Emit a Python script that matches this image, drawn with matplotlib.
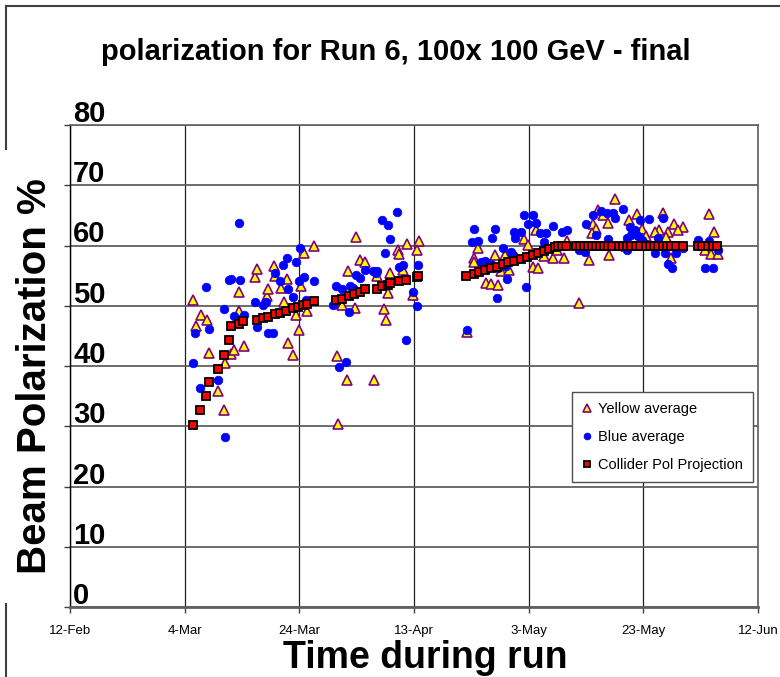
import matplotlib
matplotlib.use("Agg")
import matplotlib.pyplot as plt
import matplotlib.dates as mdates
import matplotlib.transforms as mtransforms
from matplotlib.lines import Line2D
from datetime import datetime

plt.rcParams['font.family'] = ['Liberation Sans', 'DejaVu Sans']

# ---- data: days counted from 4-Mar-2006, polarization in % ----
base_date = "2006-03-04"

yellow_days = [1.5, 2.8, 3.9, 2.0, 4.3, 5.8, 6.9, 7.1, 8.0, 8.6, 10.4, 9.5, 9.5, 12.3, 12.7,
               14.3, 14.6, 15.5, 15.8, 16.8, 17.3, 17.9, 19.4, 20.0, 18.1, 18.9, 20.3, 20.8,
               21.3, 22.6,
               29.8, 30.6, 31.4, 28.5, 38.7, 37.2, 37.4, 40.8, 40.6, 35.8, 38.0, 33.5, 35.5,
               39.9, 29.7, 27.4, 34.7, 35.1, 26.5, 28.3, 33.0, 26.7,
               51.2, 50.4, 50.4, 54.2, 55.8, 55.2, 56.5, 52.6, 53.5, 54.7, 59.2, 59.8, 61.3,
               60.7, 61.7, 62.7, 64.3, 65.0, 49.2,
               75.1, 72.1, 72.9, 73.9, 71.3, 71.7, 71.0, 78.9, 77.5, 79.7, 83.4, 85.4, 86.9,
               86.0, 84.3, 82.8, 82.0, 80.4, 84.0, 91.5, 92.3, 76.9, 74.0, 70.5, 66.2, 66.6,
               84.8, 90.8, 91.8, 93.0, 68.7]
yellow_pol = [50.9, 48.5, 47.6, 46.6, 42.2, 35.8, 32.7, 40.5, 42.0, 42.6, 43.3, 49.1, 52.3, 54.8, 56.1,
              51.7, 52.8, 56.6, 55.0, 52.9, 50.7, 54.4, 48.4, 46.0, 43.8, 41.8, 53.2, 58.7,
              49.1, 59.9,
              61.4, 57.6, 57.3, 55.7, 60.3, 59.3, 58.6, 60.7, 59.3, 55.4, 55.9, 55.0, 52.1,
              51.8, 49.6, 50.1, 49.4, 47.7, 41.7, 37.7, 37.7, 30.3,
              59.6, 57.9, 57.3, 58.4, 58.4, 55.8, 55.9, 53.8, 53.6, 53.4, 61.1, 60.1, 62.5,
              56.5, 56.3, 58.2, 57.9, 59.3, 45.6,
              67.7, 65.9, 65.1, 63.7, 63.6, 62.7, 62.0, 65.3, 64.3, 62.7, 65.4, 63.6, 63.1,
              62.5, 62.3, 62.6, 62.2, 61.5, 61.4, 65.3, 62.3, 59.9, 58.4, 57.6, 58.0, 60.8,
              58.0, 59.2, 58.6, 58.6, 50.5]

blue_days = [9.4, 1.4, 1.8, 2.7, 3.8, 4.2, 5.8, 6.8, 7.0, 7.7, 8.1, 8.6, 9.6, 10.3, 12.2, 12.6,
             13.7, 14.1, 14.6, 15.4, 15.8, 16.7, 17.1, 17.8, 18.1, 18.9, 19.4, 20.1, 19.9, 20.8,
             21.2, 22.5,
             37.1, 34.5, 35.4, 35.8, 35.0, 38.0, 37.4, 40.7, 31.4, 32.8, 33.6, 33.4, 29.8, 30.5,
             26.4, 27.5, 28.8, 29.3, 25.8, 28.6, 39.9, 40.5, 38.6, 26.9, 28.2,
             59.2, 60.7, 59.8, 61.3, 50.5, 54.1, 57.5, 58.7, 64.2, 61.9, 63.0, 53.6, 57.7, 50.1,
             51.2, 62.7, 55.5, 57.0, 57.2, 51.6, 52.4, 53.5, 56.1, 54.6, 56.3, 59.5, 54.5, 49.2,
             65.8, 66.6, 68.7, 69.9, 70.0, 71.3, 72.7, 73.6, 74.7, 75.0, 76.4, 71.8, 73.8, 77.1,
             77.6, 78.5, 77.9, 79.4, 81.0, 79.1, 79.8, 80.2, 83.4, 82.5, 82.0, 83.7, 77.1, 84.3,
             85.0, 85.7, 86.9, 89.5, 91.5, 90.8, 92.2, 93.0]
blue_pol = [63.7, 40.5, 45.5, 36.4, 53.1, 46.2, 37.7, 49.5, 28.2, 54.3, 54.5, 48.3, 54.3, 48.4, 50.6, 46.5,
            50.1, 50.6, 45.5, 45.5, 55.4, 54.1, 56.7, 57.9, 52.8, 51.4, 57.2, 59.6, 54.1, 54.8,
            50.9, 54.1,
            65.6, 64.2, 63.4, 61.1, 58.7, 56.8, 56.4, 56.8, 55.9, 55.8, 55.8, 55.4, 55.1, 54.6,
            53.2, 52.7, 53.3, 52.9, 50.1, 49.0, 52.2, 49.9, 44.3, 39.9, 40.6,
            65.0, 65.0, 63.6, 63.7, 62.7, 62.7, 62.3, 62.3, 63.2, 62.1, 62.1, 61.2, 61.2, 60.6,
            60.8, 60.6, 59.6, 59.0, 58.4, 57.3, 57.5, 57.0, 56.6, 56.2, 54.5, 53.1, 51.3, 45.9,
            62.3, 62.5, 59.3, 59.0, 63.6, 65.0, 65.7, 65.4, 65.4, 64.6, 66.1, 61.8, 61.1, 61.2,
            63.0, 62.6, 61.8, 64.2, 64.4, 61.5, 60.9, 60.4, 64.6, 61.2, 58.8, 58.8, 59.3, 57.0,
            56.2, 58.8, 59.6, 60.9, 60.7, 56.2, 56.2, 59.3]

proj_days = [1.4, 2.7, 3.8, 4.3, 5.8, 6.8, 7.7, 8.1, 9.5, 10.2, 12.6, 13.6, 14.6, 15.7, 16.7,
             17.7, 18.9, 19.8, 20.6, 21.3, 22.5,
             26.4, 27.5, 28.6, 29.5, 30.5, 31.4, 33.6, 34.5, 35.4, 35.8, 37.3, 38.6, 40.5, 40.7,
             49.1, 50.4, 51.4, 52.4, 53.5, 54.5, 55.5, 56.4, 57.5, 58.6, 59.7, 60.7, 61.7, 62.7,
             63.6, 64.6, 65.2, 65.9, 66.5, 68.3, 69.0, 69.7, 70.4, 71.0, 71.7, 72.5, 73.2, 73.9,
             74.6, 75.8, 76.5, 77.2, 77.9, 78.7, 79.4, 80.5, 81.2, 81.9, 82.6, 83.4, 84.1, 84.8,
             85.7, 86.9, 89.5, 90.3, 91.2, 92.1, 92.9]
proj_pol = [30.2, 32.7, 35.0, 37.3, 39.5, 41.9, 44.3, 46.7, 47.0, 47.5, 47.7, 48.0, 48.2, 48.6, 48.8,
            49.1, 49.6, 49.8, 50.1, 50.3, 50.8,
            50.9, 51.2, 51.7, 51.9, 52.2, 52.7, 52.8, 53.2, 53.4, 53.8, 54.1, 54.3, 54.8, 55.0,
            55.0, 55.3, 55.6, 56.0, 56.3, 56.5, 56.9, 57.3, 57.5, 57.8, 58.1, 58.4, 58.7, 59.1,
            59.4, 59.7, 60.0, 60.0, 60.0, 60.0, 60.0, 60.0, 60.0, 60.0, 60.0, 60.0, 60.0, 60.0,
            60.0, 60.0, 60.0, 60.0, 60.0, 60.0, 60.0, 60.0, 60.0, 60.0, 60.0, 60.0, 60.0, 60.0,
            60.0, 60.0, 60.0, 60.0, 60.0, 60.0, 60.0]

x_tick_dates = ["2006-02-12", "2006-03-04", "2006-03-24", "2006-04-13",
                "2006-05-03", "2006-05-23", "2006-06-12"]
x_tick_labels = ["12-Feb", "4-Mar", "24-Mar", "13-Apr", "3-May", "23-May", "12-Jun"]
y_ticks = [0, 10, 20, 30, 40, 50, 60, 70, 80]

title = "polarization for Run 6, 100x 100 GeV - final"
xlabel = "Time during run"
ylabel = "Beam Polarization %"
labels = ["Yellow average", "Blue average", "Collider Pol Projection"]

# ---- figure ----
W, H = 780, 677
fig = plt.figure(figsize=(W / 100, H / 100), dpi=100)
ax = fig.add_axes([70 / W, 1 - 607 / H, 688 / W, 482 / H])

b0 = mdates.date2num(datetime.strptime(base_date, "%Y-%m-%d"))
xt = [mdates.date2num(datetime.strptime(d, "%Y-%m-%d")) for d in x_tick_dates]

ax.plot([b0 + d for d in yellow_days], yellow_pol, linestyle='none', marker='^',
        markersize=7.8, markerfacecolor='#FFFF00', markeredgecolor='#800080',
        markeredgewidth=1.2, label=labels[0], zorder=3)
ax.plot([b0 + d for d in blue_days], blue_pol, linestyle='none', marker='o',
        markersize=6.2, markerfacecolor='#0000FF', markeredgecolor='#0000FF',
        markeredgewidth=0.5, label=labels[1], zorder=4)
ax.plot([b0 + d for d in proj_days], proj_pol, linestyle='none', marker='s',
        markersize=6.0, markerfacecolor='#FF0000', markeredgecolor='black',
        markeredgewidth=1.3, label=labels[2], zorder=5)

ax.set_xlim(xt[0], xt[-1])
ax.set_ylim(y_ticks[0], y_ticks[-1])
ax.set_xticks(xt)
ax.set_xticklabels(x_tick_labels, fontsize=9.5)
ax.set_yticks(y_ticks)
ax.set_yticklabels([])
ax.tick_params(axis='x', direction='out', length=4, width=1, color='#404040', pad=9)
ax.tick_params(axis='y', direction='out', length=4, width=1, color='#404040')

ax.grid(axis='x', color='#202020', linewidth=0.9, zorder=0)
ax.grid(axis='y', color='#606060', linewidth=1.3, zorder=0)
ax.set_axisbelow(True)
for side in ['top', 'right']:
    ax.spines[side].set_color('#606060')
    ax.spines[side].set_linewidth(1.2)
ax.spines['left'].set_color('black')
ax.spines['left'].set_linewidth(1.0)
ax.spines['bottom'].set_color('#606060')
ax.spines['bottom'].set_linewidth(2.0)

# y tick labels drawn inside the plot just above each gridline
trans = mtransforms.blended_transform_factory(ax.transAxes, ax.transData)
trans = mtransforms.offset_copy(trans, fig=fig, x=3, y=3, units='dots')
for v in y_ticks:
    ax.text(0, v, str(v), transform=trans, ha='left', va='baseline',
            fontsize=21, fontweight='bold', color='black', zorder=6)

leg = ax.legend(loc='upper left', bbox_to_anchor=(0.7297, 0.446), fontsize=10.5,
                frameon=True, fancybox=False, shadow=False, framealpha=1,
                edgecolor='#505050', handlelength=0.6, handletextpad=0.5,
                labelspacing=0.95, borderpad=0.7, borderaxespad=0, numpoints=1,
                markerscale=0.8)
leg.get_frame().set_linewidth(1.0)

fig.text(396 / W, 1 - 52 / H, title, ha='center', va='center',
         fontsize=21, fontweight='bold')
fig.text(425 / W, 1 - 668 / H, xlabel, ha='center', va='baseline',
         fontsize=27, fontweight='bold')
fig.text(35 / W, 1 - 376 / H, ylabel, ha='center', va='center', rotation=90,
         fontsize=29, fontweight='bold')

# outer chart border (top and broken left edge)
fig.add_artist(Line2D([6 / W, 1], [1 - 6 / H, 1 - 6 / H], color='#404040', lw=1.5,
                      transform=fig.transFigure))
fig.add_artist(Line2D([6 / W, 6 / W], [1 - 6 / H, 1 - 149 / H], color='#404040', lw=1.5,
                      transform=fig.transFigure))
fig.add_artist(Line2D([6 / W, 6 / W], [1 - 604 / H, 0], color='#404040', lw=1.5,
                      transform=fig.transFigure))

fig.savefig("out.png", dpi=100)
